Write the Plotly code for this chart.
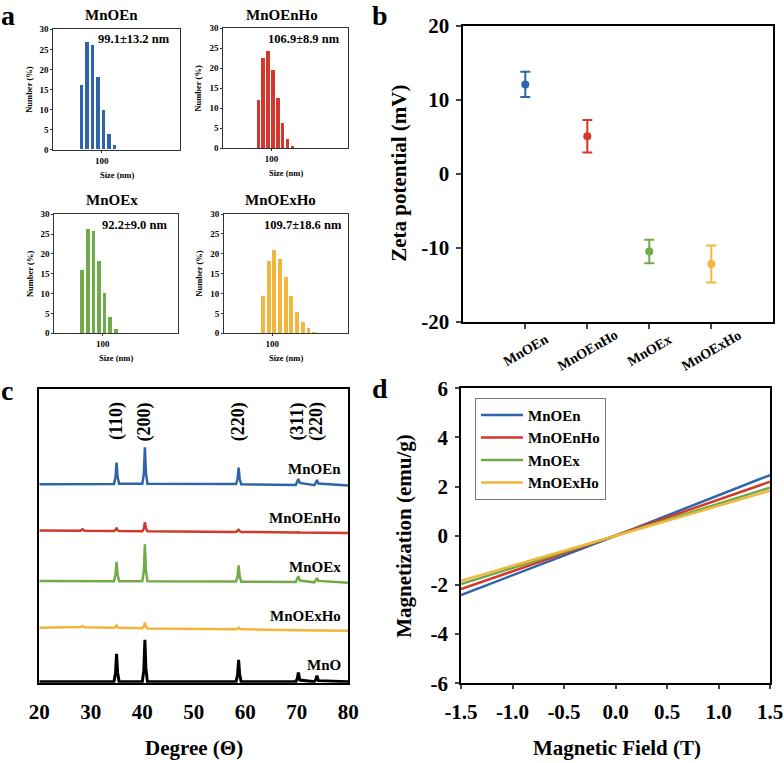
import plotly.graph_objects as go

# ---------------- data ----------------
# (a) DLS size distributions
hist_names = ["MnOEn", "MnOEnHo", "MnOEx", "MnOExHo"]
hist_stats = ["99.1±13.2 nm", "106.9±8.9 nm", "92.2±9.0 nm", "109.7±18.6 nm"]
mnoen_size = [58.77, 68.06, 78.82, 91.28, 105.7, 122.4, 141.8]
mnoen_pct = [16.1, 26.8, 25.9, 18.0, 9.7, 3.9, 1.2]
mnoenho_size = [68.06, 78.82, 91.28, 105.7, 122.4, 141.8, 164.2, 190.1]
mnoenho_pct = [12.1, 22.5, 24.2, 19.6, 12.4, 6.3, 2.3, 0.5]
mnoex_size = [58.77, 68.06, 78.82, 91.28, 105.7, 122.4, 141.8]
mnoex_pct = [15.8, 26.3, 25.8, 18.2, 10.0, 4.1, 1.1]
mnoexho_size = [78.82, 91.28, 105.7, 122.4, 141.8, 164.2, 190.1, 220.2, 254.9, 295.3]
mnoexho_pct = [9.5, 18.2, 20.9, 18.8, 14.2, 9.4, 5.4, 2.9, 1.25, 0.3]

# (b) zeta potential
zeta_samples = ["MnOEn", "MnOEnHo", "MnOEx", "MnOExHo"]
zeta_mean = [12.1, 5.1, -10.5, -12.2]
zeta_err = [1.7, 2.2, 1.6, 2.5]
zeta_ticks = [-20, -10, 0, 10, 20]
zeta_ticktext = ["-20", "-10", "0", "10", "20"]

# (c) XRD patterns (2θ grid, intensity above each trace's baseline)
xrd_angle = [20, 25, 28.0, 28.4, 28.8, 34.5, 34.8, 35.0, 35.2, 35.5, 40.0, 40.3, 40.5,
             40.7, 41.0, 58.2, 58.5, 58.7, 58.9, 59.2, 69.8, 70.1, 70.3, 70.6, 73.4,
             73.7, 73.9, 74.2, 80]
xrd_names = ["MnOEn", "MnOEnHo", "MnOEx", "MnOExHo", "MnO"]
xrd_offset = [67.6, 51.3, 34.4, 18.2, 0.3]
xrd_mnoen = [0, 0.1, 0, 0.1, 0, 0.1, 2.5, 7.4, 2.6, 0.2, 0.2, 3.5, 12.6, 4.0, 0.2, 0.1,
             1.8, 5.7, 2.0, 0, -0.2, 0.8, 1.8, 0.5, -0.3, 0.6, 1.5, 0.3, -0.4]
xrd_mnoenho = [0.6, 0.5, 0.5, 1.0, 0.5, 0.4, 0.7, 1.5, 0.7, 0.4, 0.3, 1.2, 3.4, 1.3, 0.3,
               0.1, 0.4, 0.8, 0.4, 0.1, -0.1, 0, 0, -0.1, -0.2, -0.2, -0.2, -0.2, -0.3]
xrd_mnoex = [0.3, 0.3, 0.3, 0.3, 0.3, 0.2, 2.5, 6.8, 2.4, 0.2, 0.2, 3.5, 12.8, 4.0, 0.2,
             0.1, 1.8, 5.6, 2.0, 0, -0.1, 0.8, 1.9, 0.4, -0.2, 0.5, 1.3, 0.3, -0.3]
xrd_mnoexho = [0.5, 0.7, 0.8, 1.1, 0.7, 0.5, 0.7, 1.3, 0.7, 0.5, 0.4, 1.0, 2.3, 1.0, 0.3,
               0, 0.2, 0.5, 0.2, 0, -0.3, -0.3, -0.3, -0.3, -0.4, -0.4, -0.4, -0.4, -0.5]
xrd_mno = [0, 0, 0, 0, 0, 0, 3.0, 9.5, 3.2, 0, 0, 4.0, 14.3, 4.5, 0, 0, 2.4, 7.5, 2.6,
           0, 0, 1.2, 3.2, 0.6, 0, 0.8, 2.1, 0.4, 0]
peak_pos = [35.0, 40.5, 58.7, 70.2, 73.8]
peak_hkl = ["(110)", "(200)", "(220)", "(311)", "(220)"]

# (d) magnetization
field = [-1.5, 0, 1.5]
mag_names = ["MnOEn", "MnOEnHo", "MnOEx", "MnOExHo"]
mag_mnoen = [-2.41, 0, 2.47]
mag_mnoenho = [-2.17, 0, 2.20]
mag_mnoex = [-1.96, 0, 1.96]
mag_mnoexho = [-1.83, 0, 1.83]
field_ticks = [-1.5, -1.0, -0.5, 0.0, 0.5, 1.0, 1.5]
field_ticktext = ["-1.5", "-1.0", "-0.5", "0.0", "0.5", "1.0", "1.5"]
mag_ticks = [-6, -4, -2, 0, 2, 4, 6]
mag_ticktext = ["-6", "-4", "-2", "0", "2", "4", "6"]

# ---------------- styling ----------------
W, H = 784, 763
FONT = "Liberation Serif"
BLUE, RED, GREEN, GOLD = "#2e65aa", "#d3382c", "#6fab46", "#f2b63e"
COLORS = [BLUE, RED, GREEN, GOLD]


def px(x):
    return x / W


def py(y):
    return 1 - y / H


def bfont(size, color="black"):
    return dict(family=FONT, size=size, color=color, weight="bold")


def note(text, x, y, size, angle=0, xanchor="center", xref="paper", yref="paper"):
    return dict(text=text, x=x, y=y, xref=xref, yref=yref, xanchor=xanchor,
                yanchor="middle", textangle=angle, showarrow=False, font=bfont(size))


fig = go.Figure()
ann = []

# ---------- panel a ----------
hist_sizes = [mnoen_size, mnoenho_size, mnoex_size, mnoexho_size]
hist_vals = [mnoen_pct, mnoenho_pct, mnoex_pct, mnoexho_pct]
hist_box = [  # left, right, top, bottom (px)
    (53.3, 180.0, 29.3, 149.7),
    (223.3, 348.3, 28.3, 148.3),
    (54.3, 178.3, 214.3, 333.3),
    (224.0, 348.3, 214.0, 333.3),
]
hist_range = [[1.439, 2.907], [1.375, 2.998], [1.443, 2.868], [1.462, 2.851]]
hist_title_pos = [(111.7, 15), (281.7, 15), (111.5, 200), (280, 200)]
hist_stat_pos = [(172, 39), (341.5, 39), (168.5, 224.5), (343.5, 225)]
for i in range(4):
    sfx = "" if i == 0 else str(i + 1)
    l, r, t, b = hist_box[i]
    fig.add_trace(go.Bar(
        x=hist_sizes[i], y=hist_vals[i],
        width=[0.1 * s for s in hist_sizes[i]],
        marker=dict(color=COLORS[i], line=dict(width=0)),
        xaxis="x" + sfx, yaxis="y" + sfx, showlegend=False,
    ))
    fig.update_layout(**{
        "xaxis" + sfx: dict(
            domain=[px(l), px(r)], anchor="y" + sfx, type="log", range=hist_range[i],
            tickvals=[100], ticktext=["100"], ticks="outside", ticklen=2,
            tickcolor="#333", showline=True, linecolor="#333", linewidth=1,
            mirror=True, showgrid=False, zeroline=False, tickfont=bfont(9),
            automargin=False,
        ),
        "yaxis" + sfx: dict(
            domain=[py(b), py(t)], anchor="x" + sfx, range=[0, 30], dtick=5,
            ticks="outside", ticklen=2, tickcolor="#333", showline=True,
            linecolor="#333", linewidth=1, mirror=True, showgrid=False,
            zeroline=False, tickfont=bfont(9), automargin=False,
        ),
    })
    tx, ty = hist_title_pos[i]
    ann.append(note(hist_names[i], px(tx), py(ty), 15))
    sx, sy = hist_stat_pos[i]
    ann.append(note(hist_stats[i], px(sx), py(sy), 12.5, xanchor="right"))
    ann.append(note("Number (%)", px(l - 25), py((t + b) / 2), 8.5, angle=-90))
    ann.append(note("Size (nm)", px((l + r) / 2), py(b + 25), 8.5))

# ---------- panel b ----------
for i in range(4):
    fig.add_trace(go.Scatter(
        x=[zeta_samples[i]], y=[zeta_mean[i]], mode="markers",
        marker=dict(color=COLORS[i], size=8),
        error_y=dict(type="data", array=[zeta_err[i]], color=COLORS[i],
                     thickness=2, width=5),
        xaxis="x5", yaxis="y5", showlegend=False,
    ))
fig.update_layout(
    xaxis5=dict(domain=[px(463.3), px(773.3)], anchor="y5", type="category",
                categoryorder="array", categoryarray=zeta_samples, range=[-1, 4],
                showticklabels=False, ticks="outside", ticklen=5, tickwidth=1.5,
                showline=True, linecolor="black", linewidth=1.8, mirror=True,
                showgrid=False, zeroline=False, automargin=False),
    yaxis5=dict(domain=[py(321.7), py(26)], anchor="x5", range=[-20, 20],
                tickvals=zeta_ticks, ticktext=zeta_ticktext,
                ticks="outside", ticklen=5, tickwidth=1.5, showline=True,
                linecolor="black", linewidth=1.8, mirror=True, showgrid=False,
                zeroline=False, tickfont=bfont(21), ticklabelstandoff=3,
                automargin=False),
)
for s in zeta_samples:
    ann.append(note(s, s, py(350), 14, angle=-30, xref="x5"))
ann.append(note("Zeta potential (mV)", px(399), py(173.8), 21, angle=-90))

# ---------- panel c ----------
xrd_vals = [xrd_mnoen, xrd_mnoenho, xrd_mnoex, xrd_mnoexho, xrd_mno]
xrd_colors = [BLUE, RED, GREEN, GOLD, "black"]
for i in range(5):
    fig.add_trace(go.Scatter(
        x=xrd_angle, y=[v + xrd_offset[i] for v in xrd_vals[i]], mode="lines",
        line=dict(color=xrd_colors[i], width=2.5 if i < 4 else 3),
        xaxis="x6", yaxis="y6", showlegend=False,
    ))
fig.update_layout(
    xaxis6=dict(domain=[px(39.3), px(348.3)], anchor="y6", range=[20, 80], dtick=10,
                ticks="", showline=True, linecolor="black", linewidth=1.8, mirror=True,
                showgrid=False, zeroline=False, tickfont=bfont(21),
                ticklabelstandoff=9, automargin=False),
    yaxis6=dict(domain=[py(682.7), py(389.3)], anchor="x6", range=[0, 100],
                showticklabels=False, ticks="", showline=True, linecolor="black",
                linewidth=1.8, mirror=True, showgrid=False, zeroline=False,
                automargin=False),
)
for p, h in zip(peak_pos, peak_hkl):
    ann.append(note(h, p, 89, 18, angle=-90, xref="x6", yref="y6"))
xrd_label_y = [72.7, 56.0, 39.5, 22.7, 6.0]
for n, yv in zip(xrd_names, xrd_label_y):
    ann.append(note(n, 78.9, yv, 15, xanchor="right", xref="x6", yref="y6"))
ann.append(note("Degree (Θ)", px(193.8), py(748), 21))

# ---------- panel d ----------
mag_vals = [mag_mnoen, mag_mnoenho, mag_mnoex, mag_mnoexho]
for i in range(4):
    fig.add_trace(go.Scatter(
        x=field, y=mag_vals[i], mode="lines", name=mag_names[i],
        line=dict(color=COLORS[i], width=2.5), xaxis="x7", yaxis="y7",
    ))
fig.update_layout(
    xaxis7=dict(domain=[px(461), px(770)], anchor="y7", range=[-1.5, 1.5],
                tickvals=field_ticks, ticktext=field_ticktext,
                ticks="outside", ticklen=4, tickwidth=1.5,
                showline=True, linecolor="black", linewidth=1.8, mirror=True,
                showgrid=False, zeroline=False, tickfont=bfont(21),
                ticklabelstandoff=5, automargin=False),
    yaxis7=dict(domain=[py(683.3), py(388.3)], anchor="x7", range=[-6, 6],
                tickvals=mag_ticks, ticktext=mag_ticktext,
                ticks="outside", ticklen=4, tickwidth=1.5, showline=True,
                linecolor="black", linewidth=1.8, mirror=True, showgrid=False,
                zeroline=False, tickfont=bfont(21), ticklabelstandoff=3,
                automargin=False),
)
ann.append(note("Magnetic Field (T)", px(616.7), py(748), 21))
ann.append(note("Magnetization (emu/g)", px(404), py(535.8), 21, angle=-90))

# panel letters
for t, (x, y) in zip(["a", "b", "c", "d"], [(8, 15), (380, 15), (7, 390), (380, 389)]):
    ann.append(note(t, px(x), py(y), 28))

fig.update_layout(
    template="none",
    width=W, height=H, margin=dict(l=0, r=0, t=0, b=0, autoexpand=False),
    paper_bgcolor="white", plot_bgcolor="white",
    font=dict(family=FONT, color="black", weight="bold"),
    annotations=ann,
    legend=dict(x=px(475), y=py(397.7), xanchor="left", yanchor="top",
                bordercolor="#777", borderwidth=1, bgcolor="white",
                font=bfont(15), tracegroupgap=0, itemwidth=42),
    bargap=0,
)

fig.write_html("out.html", config={"displayModeBar": False},
               post_script="document.body.style.margin='0';")
